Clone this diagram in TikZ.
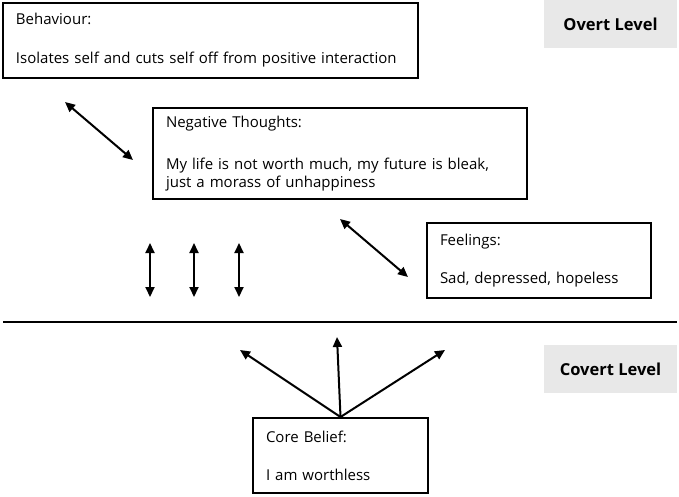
\documentclass[tikz,border=0pt]{standalone}
\usepackage{fontspec}
\setmainfont{Open Sans}
\usetikzlibrary{arrows.meta, positioning}

\begin{document}
\begin{tikzpicture}[
  x=1pt, y=-1pt,
  font=\fontsize{15}{18}\selectfont,
  levelbox/.style={draw=black, line width=2pt, align=left, anchor=north west, inner xsep=13pt, inner ysep=0pt},
  tag/.style={fill=black!9, minimum width=133pt, minimum height=48pt, font=\fontsize{16.5}{19}\selectfont\bfseries},
  arr/.style={-{Triangle[length=10pt, width=9pt]}, line width=2pt},
  darr/.style={{Triangle[length=10pt, width=9pt]}-{Triangle[length=10pt, width=9pt]}, line width=2pt},
]
\useasboundingbox (0,0) rectangle (679,497);

% Overt level boxes
\node[levelbox, text width=389pt, minimum height=75pt] (behav) at (2,2) {Behaviour:\\[21pt]\mbox{Isolates self and cuts self off from positive interaction}};
\node[levelbox, text width=348pt, minimum height=91pt] (thought) at (152,107) {Negative Thoughts:\\[24pt]\mbox{My life is not worth much, my future is bleak,}\\just a morass of unhappiness};
\node[levelbox, text width=198pt, minimum height=75pt] (feel) at (426,222) {Feelings:\\[20pt]Sad, depressed, hopeless};

% Level tags
\node[tag] (overt) at (610.5,24) {Overt Level};
\node[tag] (covert) at (610.5,369) {Covert Level};

% Dividing line
\coordinate (divl) at (3,322);
\coordinate (divr) at (677,322);
\draw[line width=2.5pt] (divl) -- (divr);

% Covert level box
\node[levelbox, text width=149pt, minimum height=75pt] (core) at (252,417) {Core Belief:\\[20pt]I am worthless};

% Two-way links
\coordinate (bt1) at (65,102);
\coordinate (bt2) at (133,160);
\coordinate (tf1) at (340,219);
\coordinate (tf2) at (408,277);
\draw[darr] (bt1) -- (bt2);
\draw[darr] (tf1) -- (tf2);
\foreach \i/\x in {1/150, 2/194, 3/239} {
  \coordinate (up\i) at (\x,243);
  \coordinate (dn\i) at (\x,297);
  \draw[darr] (up\i) -- (dn\i);
}

% Core belief feeds upward
\coordinate (toleft) at (240,350);
\coordinate (tomid) at (337,337);
\coordinate (toright) at (445,350);
\draw[arr] (core.north) -- (toleft);
\draw[arr] (core.north) -- (tomid);
\draw[arr] (core.north) -- (toright);

\end{tikzpicture}
\end{document}
